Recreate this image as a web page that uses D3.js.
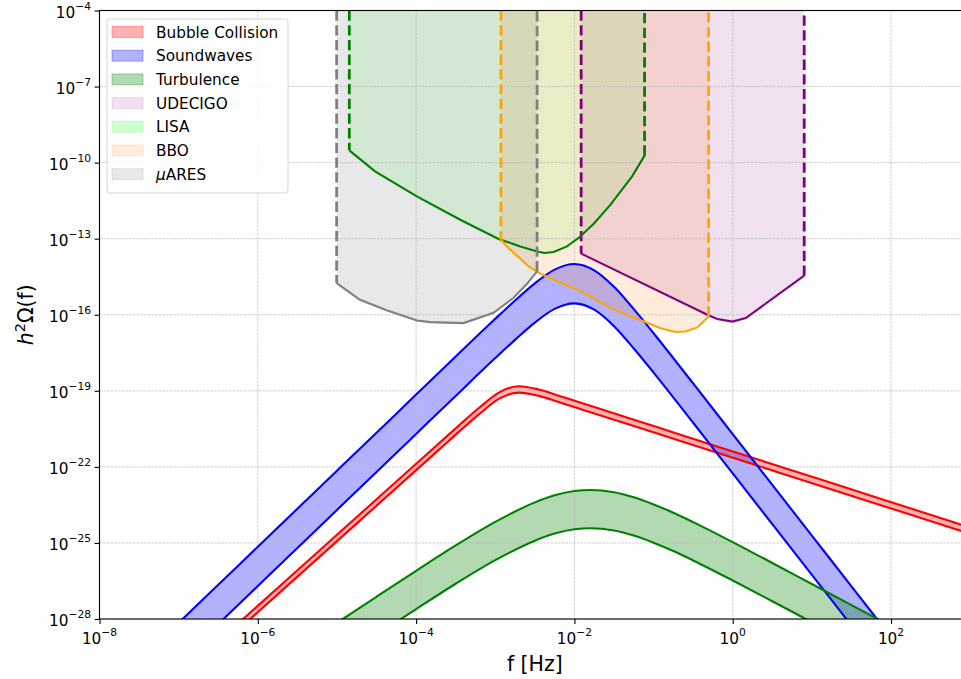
<!DOCTYPE html>
<html>
<head>
<meta charset="utf-8">
<script src="https://cdnjs.cloudflare.com/ajax/libs/d3/7.8.5/d3.min.js"></script>
<style>
  body { margin: 0; background: #fff; }
  text { font-family: "DejaVu Sans", sans-serif; fill: #000; }
</style>
</head>
<body>
<svg width="961" height="679"></svg>
<script>
// all values are log10 of f [Hz] and of h^2 Omega

// bubble collision band
var bcLogF  = [-6.7, -6.2, -5.7, -5.2, -4.7, -4.2, -3.7, -3.45, -3.2, -2.95, -2.7, -2.45, -2.2, -1.95, -1.7, -1.2, -0.7, 0.3, 1.3, 2.3, 3.3];
var bcUpper = [-29.44, -28.04, -26.64, -25.24, -23.84, -22.44, -21.04, -20.34, -19.66, -19.06, -18.82, -18.95, -19.19, -19.44, -19.69, -20.19, -20.69, -21.69, -22.69, -23.69, -24.69];
var bcLower = [-29.69, -28.29, -26.89, -25.49, -24.09, -22.69, -21.29, -20.59, -19.91, -19.31, -19.07, -19.2, -19.44, -19.69, -19.94, -20.44, -20.94, -21.94, -22.94, -23.94, -24.94];

// sound waves band
var swLogF  = [-7.5, -7, -6.5, -6, -5.5, -5, -4.5, -4, -3.5, -3, -2.75, -2.5, -2.25, -2, -1.75, -1.5, -1.25, -1, -0.5, 0, 0.5, 1, 1.5, 2, 2.5];
var swUpper = [-29.65, -28.15, -26.65, -25.15, -23.65, -22.15, -20.65, -19.15, -17.65, -16.16, -15.44, -14.76, -14.22, -14.0, -14.25, -14.9, -15.78, -16.73, -18.71, -20.71, -22.71, -24.71, -26.71, -28.71, -30.71];
var swLower = [-31.2, -29.7, -28.2, -26.7, -25.2, -23.7, -22.2, -20.7, -19.2, -17.71, -16.99, -16.31, -15.77, -15.55, -15.8, -16.45, -17.33, -18.28, -20.26, -22.26, -24.26, -26.26, -28.26, -30.26, -32.26];

// turbulence band
var tbLogF  = [-5.5, -5, -4.5, -4, -3.5, -3, -2.5, -2.25, -2, -1.8, -1.5, -1.25, -1, -0.75, -0.5, 0, 0.5, 1, 1.5, 2, 2.5];
var tbUpper = [-29.2, -28.15, -27.12, -26.1, -25.1, -24.17, -23.4, -23.12, -22.95, -22.91, -23.0, -23.2, -23.48, -23.81, -24.18, -24.97, -25.79, -26.62, -27.45, -28.28, -29.11];
var tbLower = [-30.71, -29.66, -28.63, -27.61, -26.61, -25.68, -24.91, -24.63, -24.46, -24.42, -24.51, -24.71, -24.99, -25.32, -25.69, -26.48, -27.3, -28.13, -28.96, -29.79, -30.62];

// detector sensitivity curves
var udLogF = [-1.915, -0.321, -0.195, -0.004, 0.165, 0.903];
var udLogH = [-13.59, -16.0, -16.17, -16.27, -16.13, -14.46];

var lisaLogF = [-4.844, -4.519, -3.991, -3.443, -2.958, -2.684, -2.472, -2.38, -2.262, -2.093, -1.933, -1.756, -1.544, -1.271, -1.114];
var lisaLogH = [-9.515, -10.344, -11.331, -12.251, -13.013, -13.305, -13.503, -13.566, -13.526, -13.305, -12.934, -12.409, -11.659, -10.542, -9.725];

var bboLogF = [-2.928, -2.853, -2.579, -2.43, -2.262, -1.966, -1.839, -1.544, -1.123, -0.911, -0.722, -0.595, -0.447, -0.305];
var bboLogH = [-13.04, -13.31, -14.09, -14.38, -14.62, -15.01, -15.21, -15.74, -16.27, -16.53, -16.68, -16.66, -16.5, -16.07];

var muLogF = [-5.004, -4.709, -4.372, -3.991, -3.823, -3.401, -3.022, -2.768, -2.599, -2.472];
var muLogH = [-14.75, -15.41, -15.82, -16.23, -16.29, -16.33, -15.92, -15.33, -14.78, -14.29];

var detTopLog = -4;

// ticks
var xTickExp = [-8, -6, -4, -2, 0, 2];
var yTickExp = [-4, -7, -10, -13, -16, -19, -22, -25, -28];

var legendNames = ["Bubble Collision", "Soundwaves", "Turbulence", "UDECIGO", "LISA", "BBO", "\u03bcARES"];

var svg = d3.select("svg"),
    pLeft = 99.5, pRight = 970.2, pTop = 10.5, pBottom = 619;

var x = d3.scaleLog().domain([1e-8, 1e3]).range([pLeft, pRight]),
    y = d3.scaleLog().domain([1e-28, 1e-4]).range([pBottom, pTop]);

function p10(v) { return Math.pow(10, v); }

function band(lf, hi, lo) {
    return lf.map(function (v, i) {
        return { f: p10(v), hi: p10(hi[i]), lo: p10(lo[i]) };
    });
}

function curvePts(lf, lh) {
    return lf.map(function (v, i) {
        return { f: p10(v), h: p10(lh[i]) };
    });
}

svg.append("defs").append("clipPath").attr("id", "plotclip")
    .append("rect")
    .attr("x", pLeft).attr("y", pTop)
    .attr("width", pRight - pLeft).attr("height", pBottom - pTop);

var fills = svg.append("g").attr("clip-path", "url(#plotclip)");
var gridG = svg.append("g");
var lines = svg.append("g").attr("clip-path", "url(#plotclip)");

var area = d3.area()
    .curve(d3.curveMonotoneX)
    .x(function (d) { return x(d.f); })
    .y0(function (d) { return y(d.lo); })
    .y1(function (d) { return y(d.hi); });

var lineHi = d3.line().curve(d3.curveMonotoneX)
    .x(function (d) { return x(d.f); })
    .y(function (d) { return y(d.hi); });
var lineLo = d3.line().curve(d3.curveMonotoneX)
    .x(function (d) { return x(d.f); })
    .y(function (d) { return y(d.lo); });

var bands = [
    { data: band(bcLogF, bcUpper, bcLower), fill: "rgba(255,0,0,0.3)", stroke: "red" },
    { data: band(swLogF, swUpper, swLower), fill: "rgba(0,0,255,0.3)", stroke: "blue" },
    { data: band(tbLogF, tbUpper, tbLower), fill: "rgba(0,128,0,0.3)", stroke: "green" }
];

bands.forEach(function (b) {
    fills.append("path").attr("d", area(b.data)).attr("fill", b.fill);
    lines.append("path").attr("d", lineHi(b.data))
        .attr("fill", "none").attr("stroke", b.stroke).attr("stroke-width", 2.1);
    lines.append("path").attr("d", lineLo(b.data))
        .attr("fill", "none").attr("stroke", b.stroke).attr("stroke-width", 2.1);
});

var dline = d3.line()
    .x(function (d) { return x(d.f); })
    .y(function (d) { return y(d.h); });

var detectors = [
    { data: curvePts(udLogF, udLogH), fill: "rgba(128,0,128,0.12)", stroke: "purple" },
    { data: curvePts(lisaLogF, lisaLogH), fill: "rgba(0,255,0,0.1)", stroke: "green" },
    { data: curvePts(bboLogF, bboLogH), fill: "rgba(255,127,14,0.15)", stroke: "orange" },
    { data: curvePts(muLogF, muLogH), fill: "rgba(128,128,128,0.18)", stroke: "gray" }
];

detectors.forEach(function (dt) {
    var pts = dt.data,
        first = pts[0], last = pts[pts.length - 1],
        topA = { f: first.f, h: p10(detTopLog) },
        topB = { f: last.f, h: p10(detTopLog) };
    fills.append("path")
        .attr("d", dline([topA].concat(pts, [topB])) + "Z")
        .attr("fill", dt.fill);
    lines.append("path").attr("d", dline(pts))
        .attr("fill", "none").attr("stroke", dt.stroke).attr("stroke-width", 2.1);
    lines.append("path").attr("d", dline([topA, first]))
        .attr("fill", "none").attr("stroke", dt.stroke).attr("stroke-width", 2.8)
        .attr("stroke-dasharray", "10.3,4.4");
    lines.append("path").attr("d", dline([last, topB]))
        .attr("fill", "none").attr("stroke", dt.stroke).attr("stroke-width", 2.8)
        .attr("stroke-dasharray", "10.3,4.4");
});

// gridlines
gridG.selectAll(".gx").data(xTickExp).enter().append("line")
    .attr("x1", function (d) { return x(p10(d)); })
    .attr("x2", function (d) { return x(p10(d)); })
    .attr("y1", pTop).attr("y2", pBottom);
gridG.selectAll(".gy").data(yTickExp).enter().append("line")
    .attr("y1", function (d) { return y(p10(d)); })
    .attr("y2", function (d) { return y(p10(d)); })
    .attr("x1", pLeft).attr("x2", pRight);
gridG.selectAll("line")
    .attr("stroke", "#b8b8b8").attr("stroke-width", 0.7)
    .attr("stroke-dasharray", "2.6,1.1");

// lines go above grid
lines.raise();

// axes
svg.append("g")
    .attr("transform", "translate(0," + pBottom + ")")
    .call(d3.axisBottom(x).tickValues(xTickExp.map(p10)).tickFormat("").tickSize(4.9).tickSizeOuter(0))
    .call(function (g) {
        g.select(".domain").remove();
        g.selectAll(".tick line").attr("stroke-width", 1.1);
    });

svg.append("g")
    .attr("transform", "translate(" + pLeft + ",0)")
    .call(d3.axisLeft(y).tickValues(yTickExp.map(p10)).tickFormat("").tickSize(4.9).tickSizeOuter(0))
    .call(function (g) {
        g.select(".domain").remove();
        g.selectAll(".tick line").attr("stroke-width", 1.1);
    });

svg.append("rect")
    .attr("x", pLeft).attr("y", pTop)
    .attr("width", pRight - pLeft).attr("height", pBottom - pTop)
    .attr("fill", "none").attr("stroke", "#000").attr("stroke-width", 1.1);

function powLabel(sel, e) {
    sel.append("tspan").text("10");
    sel.append("tspan").attr("dy", -8).style("font-size", "10.7px")
        .text((e < 0 ? "\u2212" : "") + Math.abs(e));
}

svg.selectAll(".xlab").data(xTickExp).enter().append("text")
    .attr("x", function (d) { return x(p10(d)); })
    .attr("y", 644)
    .attr("text-anchor", "middle")
    .style("font-size", "15.3px")
    .each(function (d) { powLabel(d3.select(this), d); });

svg.selectAll(".ylab").data(yTickExp).enter().append("text")
    .attr("x", 91)
    .attr("y", function (d) { return y(p10(d)) + 7; })
    .attr("text-anchor", "end")
    .style("font-size", "15.3px")
    .each(function (d) { powLabel(d3.select(this), d); });

// axis titles
svg.append("text")
    .attr("x", (pLeft + pRight) / 2).attr("y", 671)
    .attr("text-anchor", "middle")
    .style("font-size", "20.5px")
    .text("f [Hz]");

var yt = svg.append("text")
    .attr("transform", "translate(33," + ((pTop + pBottom) / 2) + ")rotate(-90)")
    .attr("text-anchor", "middle")
    .style("font-size", "20.5px");
yt.append("tspan").style("font-style", "italic").text("h");
yt.append("tspan").attr("dy", -8).style("font-size", "14.5px").text("2");
yt.append("tspan").attr("dy", 8).text("\u03a9(f)");

// legend
var legendFill = ["rgba(255,0,0,0.3)", "rgba(0,0,255,0.3)", "rgba(0,128,0,0.3)",
    "rgba(128,0,128,0.12)", "rgba(0,255,0,0.18)", "rgba(255,127,14,0.15)", "rgba(128,128,128,0.18)"];

var lg = svg.append("g");
lg.append("rect")
    .attr("x", 107).attr("y", 19).attr("width", 181).attr("height", 174)
    .attr("rx", 3)
    .attr("fill", "rgba(255,255,255,0.8)")
    .attr("stroke", "#d4d4d4").attr("stroke-width", 1);

var rows = lg.selectAll(".row").data(legendNames).enter().append("g")
    .attr("transform", function (d, i) { return "translate(0," + (32 + i * 23.7) + ")"; });

rows.append("rect")
    .attr("x", 112).attr("y", -5.5).attr("width", 31).attr("height", 11)
    .attr("fill", function (d, i) { return legendFill[i]; })
    .attr("stroke", function (d, i) { return legendFill[i]; })
    .attr("stroke-width", 1);

rows.append("text")
    .attr("x", 156).attr("y", 5.5)
    .style("font-size", "15.3px")
    .each(function (d) {
        var t = d3.select(this);
        if (d.charAt(0) === "\u03bc") {
            t.append("tspan").style("font-style", "italic").text("\u03bc");
            t.append("tspan").text(d.slice(1));
        } else {
            t.text(d);
        }
    });
</script>
</body>
</html>
